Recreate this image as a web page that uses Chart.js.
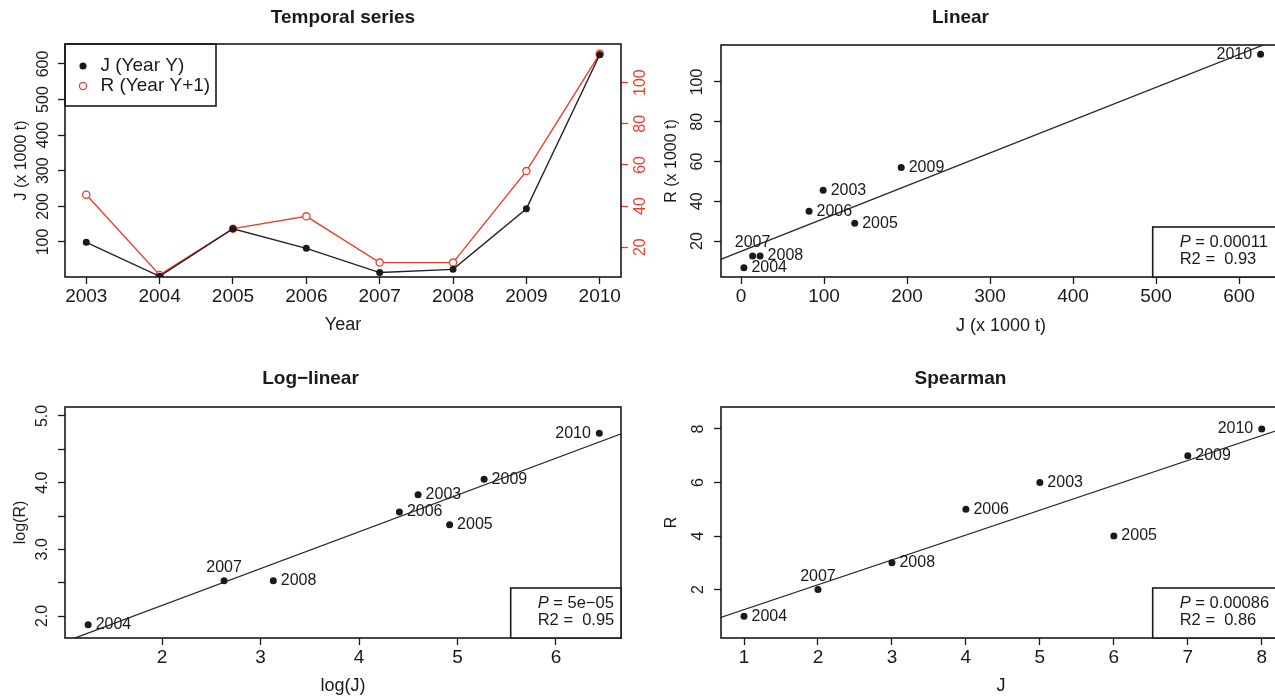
<!DOCTYPE html>
<html>
<head>
<meta charset="utf-8">
<title>J and R, 2003-2010</title>
<script src="https://cdn.jsdelivr.net/npm/chart.js"></script>
<style>
  html, body { margin: 0; padding: 0; background: #fff; overflow: hidden; width: 1275px; height: 697px; }
  canvas { position: absolute; }
  #temporal { left: 0; top: 0; }
  #linear { left: 640px; top: 0; }
  #loglin { left: 0; top: 350px; }
  #spearman { left: 640px; top: 350px; }
</style>
</head>
<body>
<canvas id="temporal" width="686" height="350"></canvas>
<canvas id="linear" width="722" height="350"></canvas>
<canvas id="loglin" width="686" height="347"></canvas>
<canvas id="spearman" width="722" height="347"></canvas>
<script>
// values
const years = [2003, 2004, 2005, 2006, 2007, 2008, 2009, 2010];
const jValues = [99, 3.5, 137, 82, 14, 23, 193, 626];      // J (x 1000 t), year Y
const rValues = [45.5, 6.5, 29, 35, 12.5, 12.5, 57, 114];  // R (x 1000 t), year Y+1
const logJ = [4.60, 1.25, 4.92, 4.41, 2.63, 3.13, 5.27, 6.44];
const logR = [3.82, 1.87, 3.37, 3.56, 2.53, 2.53, 4.05, 4.74];
const rankJ = [5, 1, 6, 4, 2, 3, 7, 8];
const rankR = [6, 1, 4, 5, 2, 3, 7, 8];

// regression lines, two end points each
const linFitX = [-40, 700];
const linFitY = [8.2, 130.3];
const logFitX = [0.5, 7];
const logFitY = [1.33, 4.92];
const rankFitX = [0, 9];
const rankFitY = [0.32, 8.68];

const statP = ['0.00011', '5e\u221205', '0.00086'];
const statR2 = ['0.93', '0.95', '0.86'];

const INK = '#1a1a1a';
const RED = '#f23b2c';
const FAM = "'Liberation Sans', Arial, Helvetica, sans-serif";

Chart.defaults.font.family = FAM;
Chart.defaults.color = INK;
Chart.defaults.animation = false;
Chart.defaults.events = [];

// box round the plot region (and round the legend when asked)
const framePlugin = {
  id: 'frame',
  afterLayout(chart, args, opts) {
    if (opts.legendShift && chart.legend) {
      // the legend sits inside the plot, moved in from the top left corner
      let [dx, dy] = opts.legendShift;
      let lg = chart.legend;
      let a = chart.chartArea;
      let w = lg.width, h = lg.height;
      lg.left = a.left + dx;
      lg.right = lg.left + w;
      lg.top = a.top + dy;
      lg.bottom = lg.top + h;
    }
  },
  afterDraw(chart, args, opts) {
    let {ctx, chartArea: a} = chart;
    ctx.save();
    ctx.strokeStyle = INK;
    ctx.lineWidth = 1.6;
    ctx.strokeRect(a.left, a.top, a.right - a.left, a.bottom - a.top);
    if (opts.legendBox) {
      ctx.strokeRect(a.left, a.top, opts.legendBox[0], opts.legendBox[1]);
    }
    ctx.restore();
  }
};

// year next to each point
const pointLabelPlugin = {
  id: 'pointLabels',
  afterDatasetsDraw(chart, args, opts) {
    if (!opts.labels) return;
    let ctx = chart.ctx;
    let meta = chart.getDatasetMeta(0);
    ctx.save();
    ctx.font = '16px ' + FAM;
    ctx.fillStyle = INK;
    ctx.textBaseline = 'middle';
    meta.data.forEach((pt, i) => {
      let text = String(opts.labels[i]);
      if (opts.left.includes(text)) {
        ctx.textAlign = 'right';
        ctx.fillText(text, pt.x - 8.5, pt.y);
      } else if (opts.above.includes(text)) {
        ctx.textAlign = 'center';
        ctx.fillText(text, pt.x, pt.y - 13);
      } else {
        ctx.textAlign = 'left';
        ctx.fillText(text, pt.x + 7.5, pt.y);
      }
    });
    ctx.restore();
  }
};

// P / R2 box in the bottom right corner
const statBoxPlugin = {
  id: 'statBox',
  afterDraw(chart, args, opts) {
    if (!opts.p) return;
    let {ctx, chartArea: a} = chart;
    let left = a.right - opts.width;
    let top = a.bottom - opts.height;
    ctx.save();
    ctx.fillStyle = '#fff';
    ctx.fillRect(left, top, opts.width, opts.height);
    ctx.strokeStyle = INK;
    ctx.lineWidth = 1.6;
    ctx.strokeRect(left, top, opts.width, opts.height);
    ctx.fillStyle = INK;
    ctx.textAlign = 'left';
    ctx.textBaseline = 'middle';
    let x = left + 27;
    ctx.font = 'italic 16.5px ' + FAM;
    ctx.fillText('P', x, top + 15);
    let pw = ctx.measureText('P').width;
    ctx.font = '16.5px ' + FAM;
    ctx.fillText(' = ' + opts.p, x + pw, top + 15);
    ctx.fillText('R2 =  ' + opts.r2, x, top + 32);
    ctx.restore();
  }
};

Chart.register(framePlugin, pointLabelPlugin, statBoxPlugin);

function pts(xs, ys) {
  return xs.map((x, i) => ({x: x, y: ys[i]}));
}

function bottomAxis(args) {
  let {min, max, step, title, height, tickGap, titleGap, format} = args;
  return {
    type: 'linear',
    position: 'bottom',
    min: min,
    max: max,
    afterFit: (scale) => { scale.height = height; },
    border: {display: false},
    grid: {drawOnChartArea: false, tickLength: 7, tickWidth: 1.3, tickColor: INK},
    ticks: {
      stepSize: step, includeBounds: false, autoSkip: false,
      maxRotation: 0, minRotation: 0, padding: tickGap,
      font: {size: 19}, color: INK,
      callback: format || ((v) => String(v))
    },
    title: {display: true, text: title, color: INK, font: {size: 18}, padding: {top: 0, bottom: titleGap}}
  };
}

function sideAxis(args) {
  let {position, min, max, step, title, width, tickGap, titleGap, color, format} = args;
  color = color || INK;
  return {
    type: 'linear',
    position: position || 'left',
    min: min,
    max: max,
    afterFit: (scale) => { scale.width = width; },
    border: {display: false},
    grid: {drawOnChartArea: false, tickLength: 7, tickWidth: 1.3, tickColor: color},
    ticks: {
      stepSize: step, includeBounds: false, autoSkip: false,
      minRotation: 90, maxRotation: 90, crossAlign: 'center', padding: tickGap,
      font: {size: 16}, color: color,
      callback: format || ((v) => String(v))
    },
    title: {display: !!title, text: title || '', color: color, font: {size: 16}, padding: {top: titleGap || 0, bottom: 0}}
  };
}

function panelTitle(text, padTop, areaTop) {
  return {
    display: true, text: text, color: INK,
    font: {size: 19, weight: 'bold'},
    padding: {top: padTop, bottom: areaTop - padTop - 22.8}
  };
}

function dots(xs, ys) {
  return {data: pts(xs, ys), showLine: false, pointRadius: 3.5, pointBackgroundColor: INK, pointBorderWidth: 0};
}

function fitLine(xs, ys) {
  return {data: pts(xs, ys), showLine: true, borderColor: '#2b2b2b', borderWidth: 1.3, pointRadius: 0};
}

const yearLabels = {labels: years, left: ['2010'], above: ['2007']};

// Temporal series
new Chart(document.getElementById('temporal'), {
  type: 'scatter',
  data: {
    datasets: [
      {
        label: 'J (Year Y)', data: pts(years, jValues), yAxisID: 'y', showLine: true,
        borderColor: '#222', borderWidth: 1.4,
        pointRadius: 3.5, pointBackgroundColor: INK, pointBorderWidth: 0
      },
      {
        label: 'R (Year Y+1)', data: pts(years, rValues), yAxisID: 'y2', showLine: true,
        borderColor: RED, borderWidth: 1.4,
        pointRadius: 3.6, pointBackgroundColor: '#fff', pointBorderColor: RED, pointBorderWidth: 1.3
      }
    ]
  },
  options: {
    responsive: false,
    layout: {padding: 0},
    plugins: {
      title: panelTitle('Temporal series', 6.6, 44),
      tooltip: {enabled: false},
      legend: {
        position: 'chartArea', align: 'start',
        labels: {usePointStyle: true, boxWidth: 16, boxHeight: 5, padding: 1, color: INK, font: {size: 19}}
      },
      frame: {legendBox: [151, 62], legendShift: [9, 11.5]}
    },
    scales: {
      x: bottomAxis({min: 2002.71, max: 2010.29, step: 1, title: 'Year', height: 73, tickGap: 1, titleGap: 14.2}),
      y: sideAxis({min: 1.5, max: 656, step: 100, title: 'J (x 1000 t)', width: 65, tickGap: 1, titleGap: 11.7}),
      y2: sideAxis({position: 'right', min: 5.5, max: 118.8, step: 20, width: 65, tickGap: -1, color: RED})
    }
  }
});

// Linear
new Chart(document.getElementById('linear'), {
  type: 'scatter',
  data: {datasets: [dots(jValues, rValues), fitLine(linFitX, linFitY)]},
  options: {
    responsive: false,
    layout: {padding: {left: 0, top: 0, bottom: 0, right: 81}},
    plugins: {
      title: panelTitle('Linear', 6.6, 45),
      tooltip: {enabled: false},
      legend: {display: false},
      pointLabels: yearLabels,
      statBox: {p: statP[0], r2: statR2[0], width: 128.3, height: 50}
    },
    scales: {
      x: bottomAxis({min: -24.1, max: 650.6, step: 100, title: 'J (x 1000 t)', height: 73, tickGap: 1, titleGap: 12.7}),
      y: sideAxis({min: 1.9, max: 118.6, step: 20, title: 'R (x 1000 t)', width: 81, tickGap: 2.7, titleGap: 21.8})
    }
  }
});

// Log-linear
new Chart(document.getElementById('loglin'), {
  type: 'scatter',
  data: {datasets: [dots(logJ, logR), fitLine(logFitX, logFitY)]},
  options: {
    responsive: false,
    layout: {padding: {left: 0, top: 0, bottom: 0, right: 65}},
    plugins: {
      title: panelTitle('Log\u2212linear', 17.6, 57),
      tooltip: {enabled: false},
      legend: {display: false},
      pointLabels: yearLabels,
      statBox: {p: statP[1], r2: statR2[1], width: 110.3, height: 50}
    },
    scales: {
      x: bottomAxis({min: 1.015, max: 6.66, step: 1, title: 'log(J)', height: 59, tickGap: 1.5, titleGap: 0.2}),
      y: sideAxis({
        min: 1.67, max: 5.135, step: 0.5, title: 'log(R)', width: 65, tickGap: 3.9, titleGap: 10.9,
        format: (v) => Math.abs(v - Math.round(v)) < 1e-6 ? v.toFixed(1) : ''
      })
    }
  }
});

// Spearman (ranks)
new Chart(document.getElementById('spearman'), {
  type: 'scatter',
  data: {datasets: [dots(rankJ, rankR), fitLine(rankFitX, rankFitY)]},
  options: {
    responsive: false,
    layout: {padding: {left: 0, top: 0, bottom: 0, right: 81}},
    plugins: {
      title: panelTitle('Spearman', 17.6, 57),
      tooltip: {enabled: false},
      legend: {display: false},
      pointLabels: yearLabels,
      statBox: {p: statP[2], r2: statR2[2], width: 128.3, height: 50}
    },
    scales: {
      x: bottomAxis({min: 0.689, max: 8.26, step: 1, title: 'J', height: 59, tickGap: 1.5, titleGap: 0}),
      y: sideAxis({min: 0.19, max: 8.82, step: 2, title: 'R', width: 81, tickGap: 10.5, titleGap: 21.8})
    }
  }
});
</script>
</body>
</html>
